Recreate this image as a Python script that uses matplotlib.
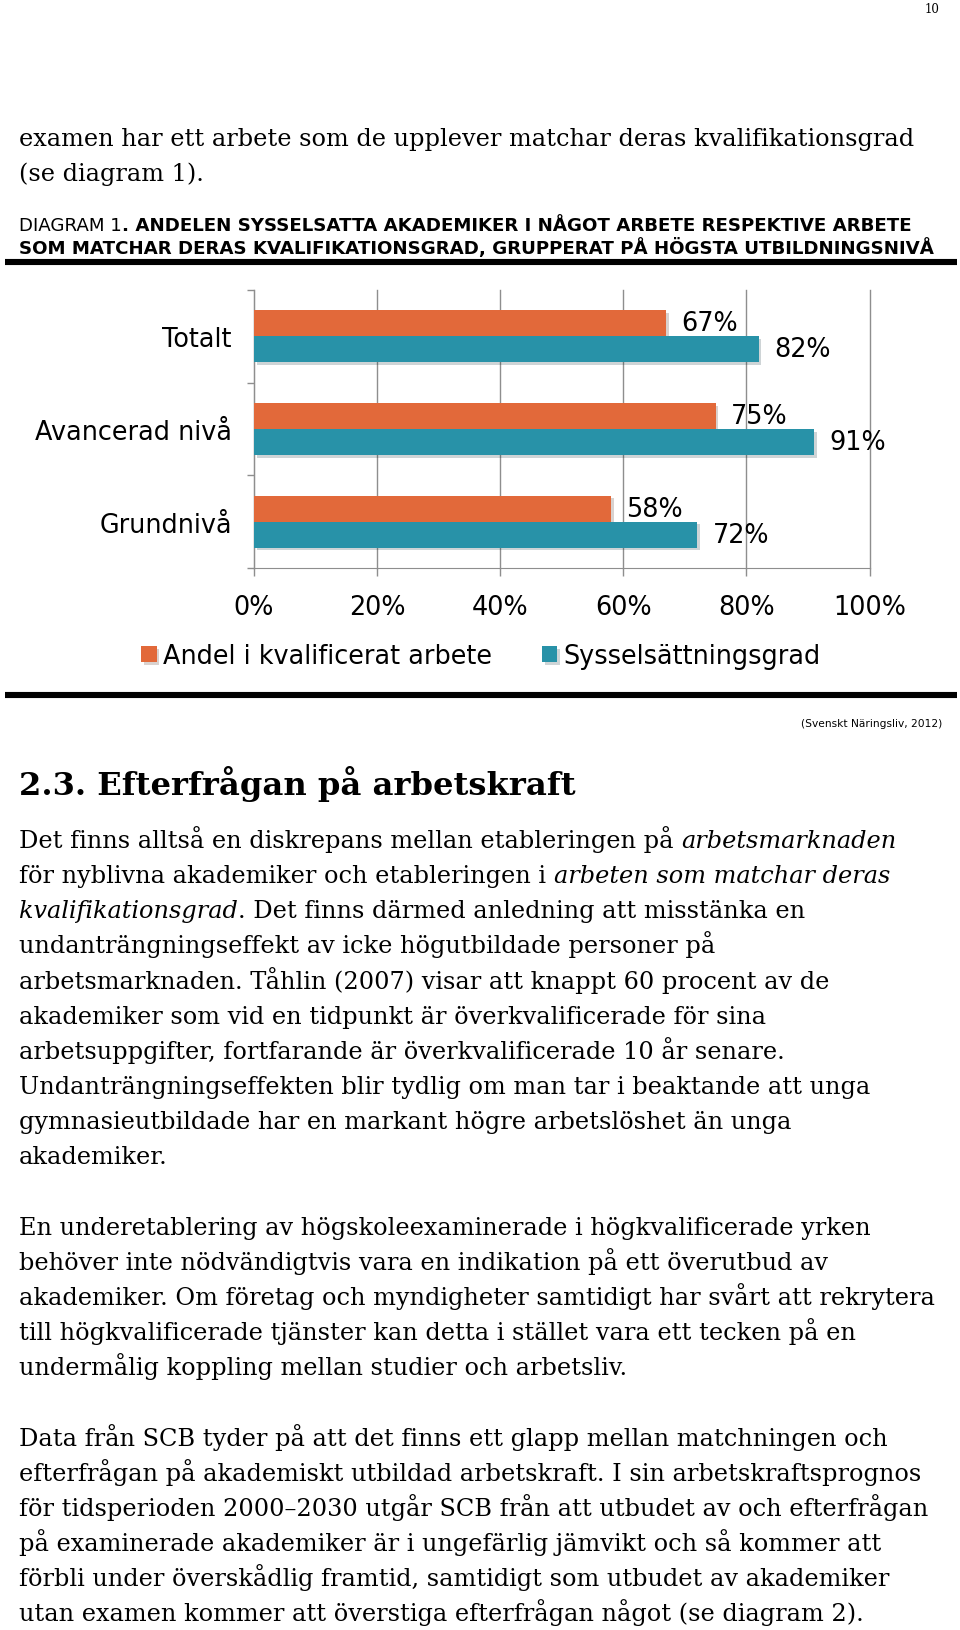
import matplotlib
matplotlib.use("Agg")
import matplotlib.pyplot as plt
import matplotlib.patheffects as pe
import numpy as np

W, H = 960, 1631

#### chart data
categories = ["Totalt", "Avancerad nivå", "Grundnivå"]
kvalificerat = [67, 75, 58]
sysselsattning = [82, 91, 72]
series_names = ["Andel i kvalificerat arbete", "Sysselsättningsgrad"]
x_ticks = [0, 20, 40, 60, 80, 100]

#### page text
page_number = "10"
intro_lines = [
    "examen har ett arbete som de upplever matchar deras kvalifikationsgrad",
    "(se diagram 1).",
]
title_lines = [
    [("DIAGRAM 1", "normal"),
     (". ANDELEN SYSSELSATTA AKADEMIKER I NÅGOT ARBETE RESPEKTIVE ARBETE", "bold")],
    [("SOM MATCHAR DERAS KVALIFIKATIONSGRAD, GRUPPERAT PÅ HÖGSTA UTBILDNINGSNIVÅ", "bold")],
]
source = "(Svenskt Näringsliv, 2012)"
heading = "2.3. Efterfrågan på arbetskraft"
para1 = [
    [("Det finns alltså en diskrepans mellan etableringen på ", "normal"), ("arbetsmarknaden", "italic")],
    [("för nyblivna akademiker och etableringen i ", "normal"), ("arbeten som matchar deras", "italic")],
    [("kvalifikationsgrad", "italic"), (". Det finns därmed anledning att misstänka en", "normal")],
    [("undanträngningseffekt av icke högutbildade personer på", "normal")],
    [("arbetsmarknaden. Tåhlin (2007) visar att knappt 60 procent av de", "normal")],
    [("akademiker som vid en tidpunkt är överkvalificerade för sina", "normal")],
    [("arbetsuppgifter, fortfarande är överkvalificerade 10 år senare.", "normal")],
    [("Undanträngningseffekten blir tydlig om man tar i beaktande att unga", "normal")],
    [("gymnasieutbildade har en markant högre arbetslöshet än unga", "normal")],
    [("akademiker.", "normal")],
]
para2 = [
    "En underetablering av högskoleexaminerade i högkvalificerade yrken",
    "behöver inte nödvändigtvis vara en indikation på ett överutbud av",
    "akademiker. Om företag och myndigheter samtidigt har svårt att rekrytera",
    "till högkvalificerade tjänster kan detta i stället vara ett tecken på en",
    "undermålig koppling mellan studier och arbetsliv.",
]
para3 = [
    "Data från SCB tyder på att det finns ett glapp mellan matchningen och",
    "efterfrågan på akademiskt utbildad arbetskraft. I sin arbetskraftsprognos",
    "för tidsperioden 2000–2030 utgår SCB från att utbudet av och efterfrågan",
    "på examinerade akademiker är i ungefärlig jämvikt och så kommer att",
    "förbli under överskådlig framtid, samtidigt som utbudet av akademiker",
    "utan examen kommer att överstiga efterfrågan något (se diagram 2).",
]

orange = "#E2693A"
teal = "#2892A8"
grid_c = "#8E8E8E"
serif = "DejaVu Serif"
sans = "DejaVu Sans"
chart_fs = 18.4

fig = plt.figure(figsize=(W / 100, H / 100), dpi=100)
renderer = fig.canvas.get_renderer()


def measure(s, **kw):
    t = fig.text(0, 0, s, **kw)
    w = t.get_window_extent(renderer).width
    t.remove()
    return w


def advance(s, **kw):
    # width incl. trailing spaces
    return measure(s + "|", **kw) - measure("|", **kw)


def fit(s, target, **kw):
    return 20 * target / measure(s, fontsize=20, **kw)


def put(x, y, s, **kw):
    return fig.text(x / W, 1 - y / H, s, va="baseline", **kw)


def put_runs(x, y, runs, key, **kw):
    for s, st in runs:
        props = dict(kw)
        props[key] = st
        put(x, y, s, **props)
        x += advance(s, **props)


def hline(y, lw):
    fig.add_artist(plt.Line2D([5 / W, 957 / W], [1 - y / H] * 2, color="black",
                              lw=lw, solid_capstyle="butt"))


#### sizes fitted to the page widths
body_fs = fit(intro_lines[0], 891, family=serif)
head_fs = fit(heading, 556, family=serif, weight="bold")
title_fs = fit(title_lines[1][0][0], 917, family=sans, weight="bold")
src_fs = fit(source, 141, family=sans)

#### page text
put(940, 13, page_number, family=serif, fontsize=8.5, ha="right")
for i, line in enumerate(intro_lines):
    put(19, 146 + i * 35.5, line, family=serif, fontsize=body_fs)

for i, runs in enumerate(title_lines):
    put_runs(19, 231 + i * 23, runs, "weight", family=sans, fontsize=title_fs)
hline(263, 4.4)

hline(696, 4.4)
put(942, 727, source, family=sans, fontsize=src_fs, ha="right")
put(19, 795, heading, family=serif, fontsize=head_fs, weight="bold")

step = 35.15
for i, runs in enumerate(para1):
    put_runs(19, 848 + i * step, runs, "style", family=serif, fontsize=body_fs)
for i, line in enumerate(para2):
    put(19, 848 + (11 + i) * step, line, family=serif, fontsize=body_fs)
for i, line in enumerate(para3):
    put(19, 848 + (17 + i) * step, line, family=serif, fontsize=body_fs)

#### chart
ax = fig.add_axes([254 / W, 1 - 569 / H, 615.5 / W, 278 / H])
y = np.arange(len(categories))
shadow = [pe.SimplePatchShadow(offset=(2, -2), alpha=0.2), pe.Normal()]
b1 = ax.barh(y - 0.14, kvalificerat, height=0.28, color=orange, zorder=3,
             label=series_names[0])
b2 = ax.barh(y + 0.14, sysselsattning, height=0.28, color=teal, zorder=3,
             label=series_names[1])
for p in list(b1) + list(b2):
    p.set_path_effects(shadow)

ax.bar_label(b1, labels=[f"{v}%" for v in kvalificerat], padding=11, fontsize=chart_fs)
ax.bar_label(b2, labels=[f"{v}%" for v in sysselsattning], padding=11, fontsize=chart_fs)

ax.set_xlim(0, 100)
ax.set_ylim(len(categories) - 0.5, -0.5)
ax.set_xticks(x_ticks)
ax.set_xticklabels([f"{t}%" for t in x_ticks])
ax.set_yticks(y)
ax.set_yticklabels(categories)
ax.set_yticks(np.arange(len(categories) + 1) - 0.5, minor=True)
ax.tick_params(axis="y", which="major", length=0, pad=16, labelsize=chart_fs)
ax.tick_params(axis="y", which="minor", length=5, color=grid_c, width=1)
ax.tick_params(axis="x", length=6, color=grid_c, width=1, pad=12.5, labelsize=chart_fs)
ax.grid(axis="x", color=grid_c, lw=1, zorder=0)
for gl in ax.get_xgridlines():
    gl.set_clip_on(False)
ax.set_axisbelow(True)
for s in ["top", "right"]:
    ax.spines[s].set_visible(False)
for s in ["left", "bottom"]:
    ax.spines[s].set_color(grid_c)

fig.legend(handles=[b1, b2], labels=series_names, loc="center",
           bbox_to_anchor=(481 / W, 1 - 657 / H), ncol=2, frameon=False,
           fontsize=chart_fs, handlelength=0.6, handleheight=0.6,
           handletextpad=0.25, columnspacing=1.95)

fig.savefig("out.png", dpi=100)
